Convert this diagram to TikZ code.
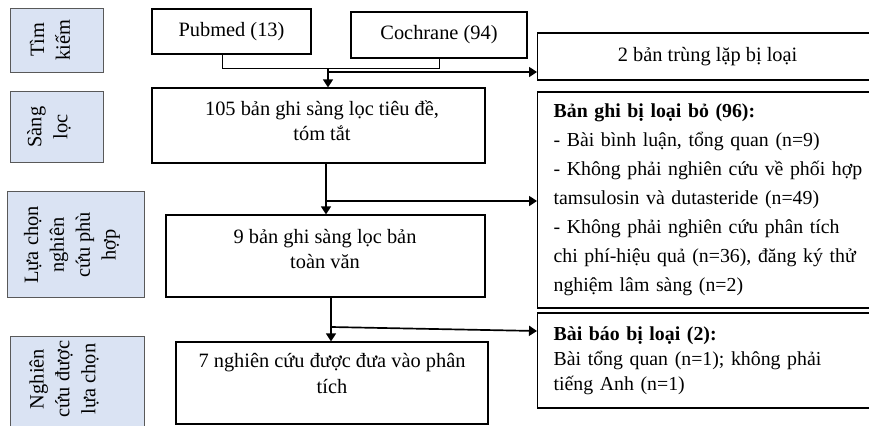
\documentclass[tikz,border=0pt]{standalone}
\usepackage{fontspec}
\setmainfont{Liberation Serif}
\usetikzlibrary{arrows.meta}
\definecolor{stagefill}{RGB}{218,227,243}
\definecolor{stageline}{RGB}{89,89,89}
\pgfdeclarelayer{bg}
\pgfsetlayers{bg,main}

\begin{document}
\begin{tikzpicture}[
        stage/.style={draw=stageline, fill=stagefill, line width=0.7pt, inner sep=0pt},
        stagetext/.style={rotate=90, align=center, inner sep=0pt, font=\fontsize{14.5}{18.4}\selectfont},
        recbox/.style={draw, line width=0.9pt, fill=white, inner sep=0pt, font=\fontsize{14.5}{17.8}\selectfont},
        boxtext/.style={align=center, inner sep=0pt, font=\fontsize{14.5}{17.8}\selectfont},
        sidebox/.style={draw, line width=0.9pt, fill=white, anchor=west, align=left, inner xsep=0.4cm, text width=9cm},
        flow/.style={very thick, -{Triangle[length=0.2cm,width=0.25cm]}},
        link/.style={line width=0.7pt}]
        \useasboundingbox (0,0) rectangle (21.725,-10.65);
        \clip (0,0) rectangle (21.725,-10.65);
        % stages
        \node (s0) [stage, minimum width=2.325cm, minimum height=1.600cm] at (1.412500cm, -1.000000cm) {};
        \node (s1) [stage, minimum width=2.325cm, minimum height=1.775cm] at (1.412500cm, -3.162500cm) {};
        \node (s2) [stage, minimum width=3.425cm, minimum height=2.650cm] at (1.887500cm, -6.100000cm) {};
        \node (s3) [stage, minimum width=3.350cm, minimum height=2.500cm] at (1.925000cm, -9.650000cm) {};
        \node (st0) [stagetext] at (1.250000cm, -1.000000cm) {Tìm\\kiếm};
        \node (st1) [stagetext] at (1.225000cm, -3.175000cm) {Sàng\\lọc};
        \node (st2) [stagetext] at (1.800000cm, -6.125000cm) {Lựa chọn\\nghiên\\cứu phù\\hợp};
        \node (st3) [stagetext] at (1.600000cm, -9.475000cm) {Nghiên\\cứu được\\lựa chọn};
        % records
        \node (b0) [recbox, minimum width=3.975cm, minimum height=1.125cm] at (5.787500cm, -0.787500cm) {Pubmed (13)};
        \node (b1) [recbox, minimum width=4.400cm, minimum height=1.150cm] at (10.975000cm, -0.875000cm) {Cochrane (94)};
        \node (b2) [recbox, minimum width=8.325cm, minimum height=1.875cm] at (7.962500cm, -3.137500cm) {};
        \node (b3) [recbox, minimum width=7.975cm, minimum height=2.050cm] at (8.137500cm, -6.400000cm) {};
        \node (b4) [recbox, minimum width=7.800cm, minimum height=2.050cm] at (8.300000cm, -9.575000cm) {};
        \node (bt2) [boxtext] at (8.050000cm, -3.025000cm) {105 bản ghi sàng lọc tiêu đề,\\tóm tắt};
        \node (bt3) [boxtext] at (8.125000cm, -6.225000cm) {9 bản ghi sàng lọc bản\\toàn văn};
        \node (bt4) [boxtext] at (8.300000cm, -9.337500cm) {7 nghiên cứu được đưa vào phân\\tích};
        % excluded
        \node (r0) [recbox, anchor=west, minimum width=8.500cm, minimum height=1.175cm] at (13.425000cm, -1.412500cm) {2 bản trùng lặp bị loại};
        \node (r1) [sidebox, minimum height=5.400cm, font=\fontsize{14.1}{20.6}\selectfont] at (13.425000cm, -5.000000cm)
                {\textbf{Bản ghi bị loại bỏ (96):}\\- Bài bình luận, tổng quan (n=9)\\- Không phải nghiên cứu về phối hợp\\tamsulosin và dutasteride (n=49)\\- Không phải nghiên cứu phân tích\\chi phí-hiệu quả (n=36), đăng ký thử\\nghiệm lâm sàng (n=2)};
        \node (r2) [sidebox, minimum height=2.375cm, font=\fontsize{14.1}{17.8}\selectfont] at (13.425000cm, -9.012500cm)
                {\textbf{Bài báo bị loại (2):}\\Bài tổng quan (n=1); không phải\\tiếng Anh (n=1)};
        \coordinate (j0) at (5.550000cm, -1.700000cm);
        \coordinate (j1) at (10.975000cm, -1.700000cm);
        \coordinate (j2) at (8.200000cm, -1.700000cm);
        \coordinate (j3) at (8.200000cm, -1.800000cm);
        \coordinate (j4) at (8.150000cm, -5.025000cm);
        \coordinate (j5) at (8.275000cm, -8.175000cm);
        \coordinate (j6) at (8.275000cm, -8.275000cm);
        \begin{pgfonlayer}{bg}
                \draw [link] (b0.south -| j0) -- (j0) -- (j1) -- (b1.south);
                \draw [flow] (j2) -- (j2 |- b2.north);
                \draw [flow] (j3) -- (j3 -| r0.west);
                \draw [flow] (j4 |- b2.south) -- (j4 |- b3.north);
                \draw [flow] (j4) -- (j4 -| r1.west);
                \draw [flow] (j5 |- b3.south) -- (j5 |- b4.north);
                \draw [flow] (j5) -- (r2.west |- j6);
        \end{pgfonlayer}
\end{tikzpicture}
\end{document}
